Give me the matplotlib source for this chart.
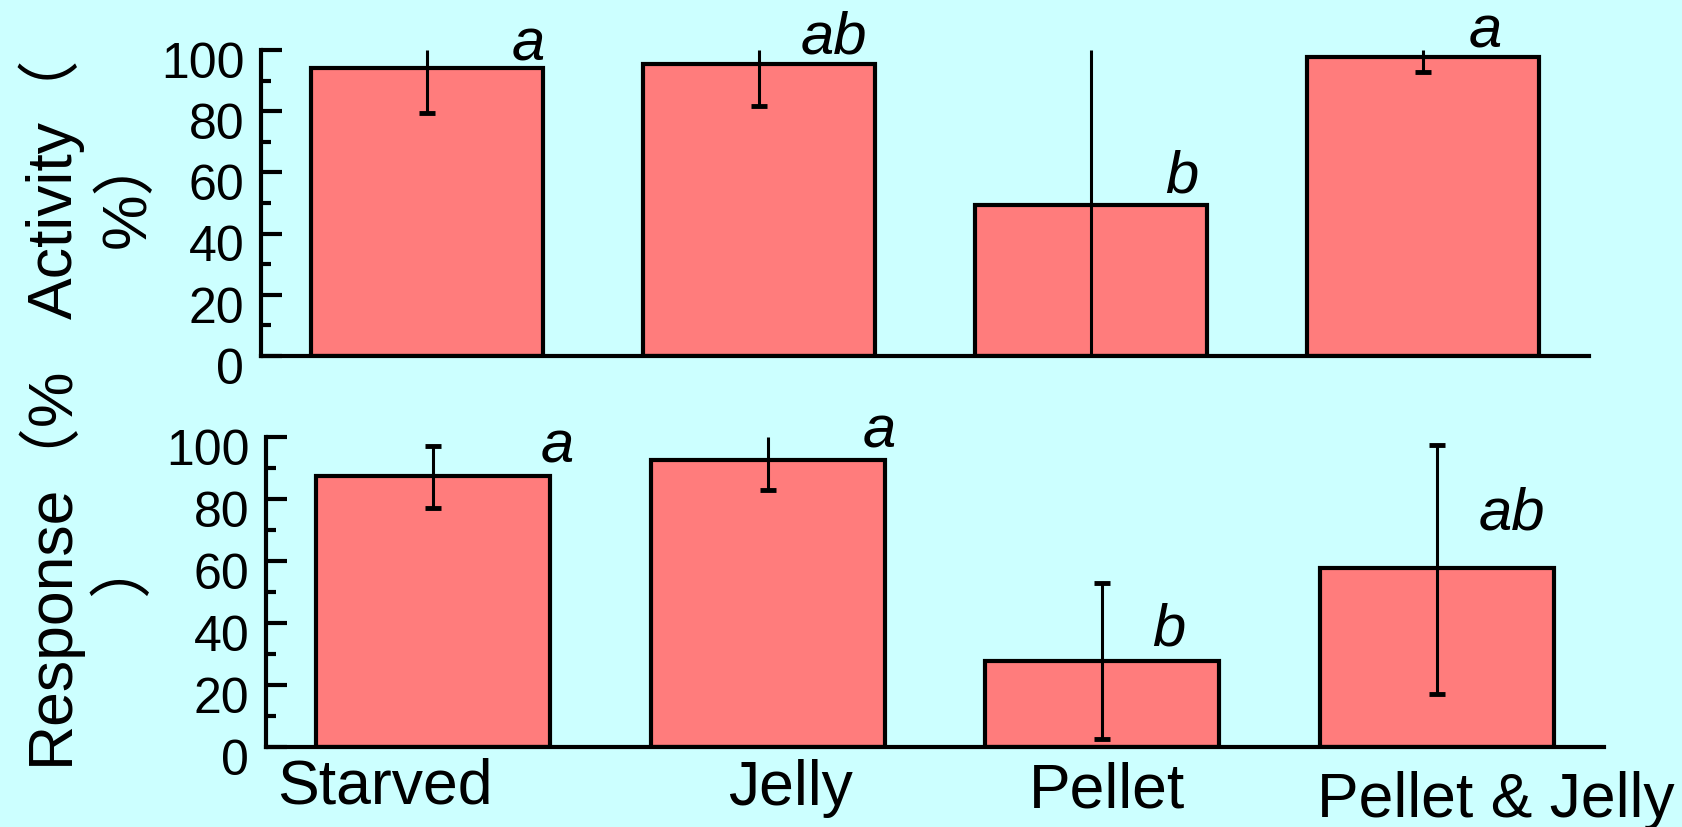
import matplotlib
matplotlib.use('Agg')
import matplotlib.pyplot as plt
from matplotlib.ticker import MultipleLocator
import matplotlib.transforms as mtransforms

plt.rcParams['font.family'] = ['Liberation Sans', 'Noto Sans CJK SC']

groups = ['Starved', 'Jelly', 'Pellet', 'Pellet & Jelly']

# activity (%) with lower / upper ends of the error bars
activity = [94.1, 95.4, 49.3, 97.7]
activity_lo = [79.4, 81.7, 0, 92.8]
activity_hi = [100, 100, 100, 100]
activity_sig = ['a', 'ab', 'b', 'a']

# response (%)
response = [87.4, 92.6, 27.7, 57.7]
response_lo = [77.1, 83.0, 2.6, 17.1]
response_hi = [97.1, 100, 52.9, 97.4]
response_sig = ['a', 'a', 'b', 'ab']

bg = '#CCFFFF'
bar_color = '#FF7C7C'
W, H = 1682, 827

fig = plt.figure(figsize=(W / 100, H / 100), dpi=100, facecolor=bg)


def panel(rect, vals, lo, hi, sig, sig_xy):
    l, t, r, b = rect
    ax = fig.add_axes([l / W, 1 - b / H, (r - l) / W, (b - t) / H])
    ax.set_facecolor(bg)
    x = range(len(vals))
    ax.bar(x, vals, width=0.7, color=bar_color, edgecolor='black',
           linewidth=3, zorder=2)
    ax.vlines(x, lo, hi, color='black', linewidth=2.2, zorder=3)
    for xi, a, c in zip(x, lo, hi):
        for v in (a, c):
            if 0 < v < 100:
                ax.plot(xi, v, marker='_', ms=11, mew=3.5, color='black',
                        zorder=3)
    for (dx, y), s in zip(sig_xy, sig):
        ax.text(dx, y, s, fontsize=43, style='italic', ha='center',
                va='baseline', clip_on=False)
    ax.set_xlim(-0.5, 3.5)
    ax.set_ylim(0, 100)
    for side in ('top', 'right'):
        ax.spines[side].set_visible(False)
    for side in ('left', 'bottom'):
        ax.spines[side].set_linewidth(3)
    ax.set_xticks([])
    ax.yaxis.set_major_locator(MultipleLocator(20))
    ax.yaxis.set_minor_locator(MultipleLocator(10))
    ax.tick_params(axis='y', which='major', direction='in', length=15,
                   width=3, labelsize=36, pad=12)
    ax.tick_params(axis='y', which='minor', direction='in', length=7.5,
                   width=3)
    shift = mtransforms.ScaledTranslation(0, -7 / 72, fig.dpi_scale_trans)
    for lab in ax.get_yticklabels():
        lab.set_transform(lab.get_transform() + shift)
    return ax


top = panel((261, 50, 1589, 356), activity, activity_lo, activity_hi,
            activity_sig,
            [(0.304, 96.7), (1.226, 98.7), (2.274, 53.3), (3.187, 100.7)])
bottom = panel((266, 437, 1604, 747), response, response_lo, response_hi,
               response_sig,
               [(0.370, 91.9), (1.334, 96.5), (2.2, 32.9), (3.224, 70)])

# group names under the lower panel
label_x = [-0.143, 1.069, 2.015, 3.176]
label_drop = [56, 58, 60, 70]
for gx, drop, name in zip(label_x, label_drop, groups):
    bottom.annotate(name, xy=(gx, 0), xycoords=('data', 'axes fraction'),
                    xytext=(0, -drop * 0.72), textcoords='offset points',
                    ha='center', va='baseline', fontsize=45,
                    annotation_clip=False)

fig.text(88 / W, 1 - 189 / H, 'Activity（\n%）', rotation=90, ha='center',
         va='center', multialignment='center', fontsize=45, linespacing=1.3)
fig.text(84 / W, 1 - 565 / H, 'Response（%\n）', rotation=90, ha='center',
         va='center', multialignment='center', fontsize=45, linespacing=1.3)

fig.savefig('out.png', dpi=100, facecolor=bg)
